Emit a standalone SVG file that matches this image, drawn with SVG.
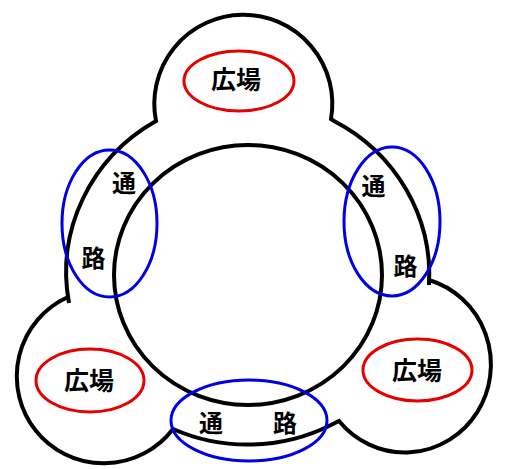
<svg xmlns="http://www.w3.org/2000/svg" width="505" height="469" viewBox="0 0 505 469">
<style>
.outline{fill:none;stroke:#000;stroke-width:4;stroke-linejoin:miter}
.plaza{fill:none;stroke:#e60000;stroke-width:3}
.passage{fill:none;stroke:#0000e6;stroke-width:3}
text{font-family:"Noto Sans CJK JP","Noto Sans CJK SC",sans-serif;fill:#000;text-anchor:middle}
.pl{font-size:25px;font-weight:bold}
.ps{font-size:24px;font-weight:bold}
</style>
<rect width="505" height="469" fill="#fff"/>
<g id="outline">
<path class="outline" d="M 156,121 A 89 89 0 1 1 331,119 L 334,121 A 181 175 0 0 1 429,285 L 429,280 A 86 88 0 1 1 339,421 L 331,425 A 181 175 0 0 1 173,429 A 87 87 0 1 1 68,297 L 69,303 A 181 175 0 0 1 156,121 Z"/>
<ellipse class="outline" cx="248" cy="275" rx="134" ry="130"/>
</g>
<g id="connectors"></g>
<g id="plaza-top">
<ellipse class="plaza" cx="239" cy="81" rx="55" ry="30"/>
<text class="pl" x="236" y="89">広場</text>
</g>
<g id="plaza-left">
<ellipse class="plaza" cx="90" cy="380.5" rx="54" ry="31.5"/>
<text class="pl" x="89" y="390">広場</text>
</g>
<g id="plaza-right">
<ellipse class="plaza" cx="417.5" cy="370" rx="54.5" ry="31"/>
<text class="pl" x="417" y="380">広場</text>
</g>
<g id="passage-left">
<ellipse class="passage" cx="109.5" cy="223.5" rx="47.5" ry="73.5"/>
<text class="ps" x="124" y="192">通</text>
<text class="ps" x="93.5" y="267">路</text>
</g>
<g id="passage-right">
<ellipse class="passage" cx="392" cy="221.5" rx="48" ry="74.5"/>
<text class="ps" x="373.5" y="195">通</text>
<text class="ps" x="405.5" y="275">路</text>
</g>
<g id="passage-bottom">
<ellipse class="passage" cx="249" cy="420.5" rx="78" ry="40.5"/>
<text class="ps" x="211" y="432">通</text>
<text class="ps" x="285" y="432">路</text>
</g>
</svg>
